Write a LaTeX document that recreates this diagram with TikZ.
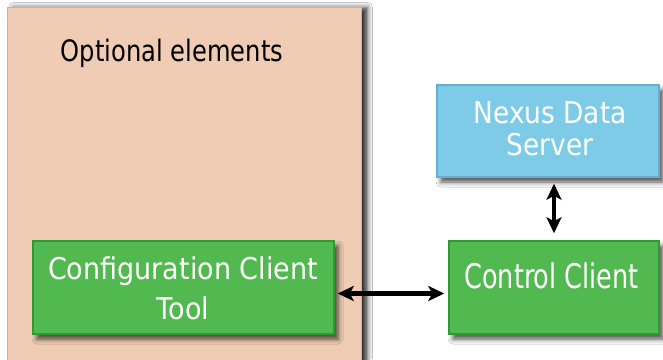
\documentclass[tikz,border=0pt]{standalone}
\usepackage{fontspec}
\setmainfont{DejaVu Sans}
\usetikzlibrary{arrows.meta,shadows.blur}
\definecolor{peach}{RGB}{239,204,179}
\definecolor{peachline}{RGB}{184,187,168}
\definecolor{grfill}{RGB}{82,185,80}
\definecolor{grline}{RGB}{47,154,51}
\definecolor{blfill}{RGB}{126,203,232}
\definecolor{blline}{RGB}{104,172,206}
\tikzset{
  shad/.style={blur shadow={shadow xshift=4pt,shadow yshift=-5pt,shadow blur radius=5pt,shadow opacity=70}},
  box/.style={rectangle,inner sep=0pt,line width=1.5pt,shad},
  greenbox/.style={box,fill=grfill,draw=grline},
  bluebox/.style={box,fill=blfill,draw=blline},
  txt/.style={anchor=base,inner sep=0pt,text=white},
  biarrow/.style={line width=4.5pt,{Stealth[length=16pt,width=15pt,inset=4pt]}-{Stealth[length=16pt,width=15pt,inset=4pt]}}
}
\begin{document}
\begin{tikzpicture}[x=1pt,y=-1pt]
\useasboundingbox (0,0) rectangle (663,359);
\fill[white] (0,0) rectangle (663,359);
% optional elements area
\node[rectangle,inner sep=0pt,fill=peach,draw=peachline,line width=1pt,
  blur shadow={shadow xshift=6pt,shadow yshift=0pt,shadow blur radius=5pt,shadow opacity=80},
  minimum width=354pt,minimum height=370pt,anchor=north west] (opt) at (7,7) {};
\node[anchor=base,inner sep=0pt,font=\fontsize{29.5}{34}\selectfont] (optlbl) at (172,61) {\scalebox{0.82}[1]{Optional elements}};
% boxes
\node[greenbox,minimum width=301pt,minimum height=93pt] (cfg) at (183.5,287.5) {};
\node[bluebox,minimum width=222pt,minimum height=92pt] (nds) at (548,131) {};
\node[greenbox,minimum width=210pt,minimum height=93pt] (ctl) at (554,287.5) {};
% texts
\node[txt,font=\fontsize{30}{33}\selectfont] (cfg1) at (183,279) {\scalebox{0.9}[1]{Configuration Client}};
\node[txt,font=\fontsize{30}{33}\selectfont] (cfg2) at (183,319) {\scalebox{0.9}[1]{Tool}};
\node[txt,font=\fontsize{30}{34}\selectfont] (nds1) at (550,123) {\scalebox{0.88}[1]{Nexus Data}};
\node[txt,font=\fontsize{30}{34}\selectfont] (nds2) at (550,155) {\scalebox{0.88}[1]{Server}};
\node[txt,font=\fontsize{34}{40}\selectfont] (ctl1) at (551.5,288) {\scalebox{0.75}[1]{Control Client}};
% connectors
\draw[biarrow] ([shift={(3,6)}]cfg.east) -- ([shift={(-4,6)}]ctl.west);
\draw[biarrow] ([shift={(0,6)}]ctl.north |- nds.south) -- ([shift={(0,-7)}]ctl.north);
\end{tikzpicture}
\end{document}
